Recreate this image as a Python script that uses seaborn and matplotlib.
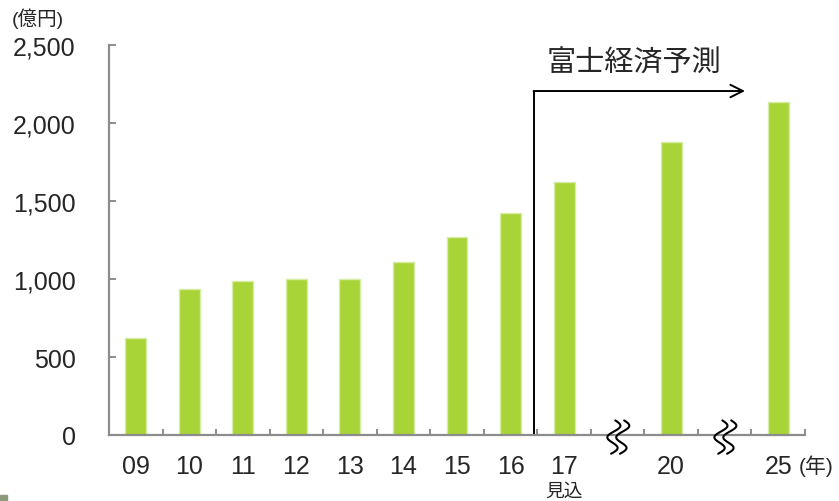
import matplotlib
matplotlib.use("Agg")
import matplotlib.pyplot as plt
import matplotlib.transforms as mtransforms
from matplotlib.patches import Rectangle
import numpy as np
import pandas as pd
import seaborn as sns

# 市場規模（億円）
years = ["09", "10", "11", "12", "13", "14", "15", "16", "17", "20", "25"]
values = [620, 935, 985, 1000, 1000, 1110, 1270, 1420, 1620, 1880, 2135]
# 省略区間を挟んだ横軸の並び
order = ["09", "10", "11", "12", "13", "14", "15", "16", "17", "gap1", "20", "gap2", "25"]
yticks = [0, 500, 1000, 1500, 2000, 2500]

sns.set_style("white")
plt.rcParams["font.family"] = ["Liberation Sans", "Noto Sans CJK JP", "DejaVu Sans"]

BAR = "#A9D438"
EDGE = "#D6EDA4"
GREY = "#8C8C8C"

df = pd.DataFrame({"year": years, "value": values})

fig = plt.figure(figsize=(8.39, 5.02), dpi=100)
ax = fig.add_axes([109 / 839, (502 - 436) / 502, (805 - 109) / 839, (436 - 46) / 502])

sns.barplot(data=df, x="year", y="value", order=order, color=BAR, saturation=1,
            width=0.39, edgecolor=EDGE, linewidth=1, ax=ax)

ax.set_xlim(-0.5, len(order) - 0.5)
ax.set_ylim(0, 2500)
ax.set_xlabel("")
ax.set_ylabel("")

# 軸と目盛
for side in ["top", "right"]:
    ax.spines[side].set_visible(False)
for side in ["left", "bottom"]:
    ax.spines[side].set_color(GREY)
    ax.spines[side].set_linewidth(1.6)

ax.set_yticks(yticks)
ax.set_yticklabels([f"{v:,}" for v in yticks])
ax.tick_params(axis="y", direction="in", length=5, width=1.4, color=GREY,
               labelsize=18, pad=24, left=True)

labels = [("" if o.startswith("gap") else o) for o in order]
ax.set_xticks(range(len(order)))
ax.set_xticklabels(labels)
ax.tick_params(axis="x", which="major", length=0, labelsize=18, pad=14)
ax.set_xticks(np.arange(0.5, len(order), 1.0), minor=True)
ax.tick_params(axis="x", which="minor", direction="in", length=4.5, width=1.4,
               color=GREY, bottom=True)

# 単位
fig.text(38 / 839, 1 - 19 / 502, "(億円)", fontsize=14, ha="center", va="center")
fig.text(799 / 839, 1 - 466 / 502, "(年)", fontsize=15, ha="left", va="center")
ax.text(order.index("17"), -0.145, "見込", transform=ax.get_xaxis_transform(),
        fontsize=13.5, ha="center", va="center")

# 予測区間の矢印
ax.plot([7.43, 7.43], [0, 2205], color="black", lw=1.4, solid_capstyle="butt")
ax.annotate("", xy=(11.38, 2205), xytext=(7.43, 2205),
            arrowprops=dict(arrowstyle="->,head_length=0.9,head_width=0.45",
                            color="black", lw=1.4, shrinkA=0, shrinkB=0))
ax.text(9.3, 2385, "富士経済予測", fontsize=21, ha="center", va="center")

# 省略記号（波線）
s = np.linspace(0, 1, 80)
wave_y = 12.0 - 24.0 * s
wave_x = 4.2 * np.sin(3 * np.pi * s) + 1.5 * (1 - 2 * s)
for gap in ["gap1", "gap2"]:
    xi = order.index(gap)
    trans = mtransforms.Affine2D().scale(fig.dpi / 72) + \
        mtransforms.ScaledTranslation(xi, 0, ax.transData)
    for dx in (-3.2, 3.2):
        ax.plot(wave_x + dx, wave_y - 1.5, color="black", lw=1.5,
                transform=trans, clip_on=False, zorder=5)

# 左下の小片
fig.patches.append(Rectangle((0, 0), 7 / 839, 6 / 502, transform=fig.transFigure,
                             color="#8A9A7A", zorder=0))

fig.savefig("out.png", dpi=100)
